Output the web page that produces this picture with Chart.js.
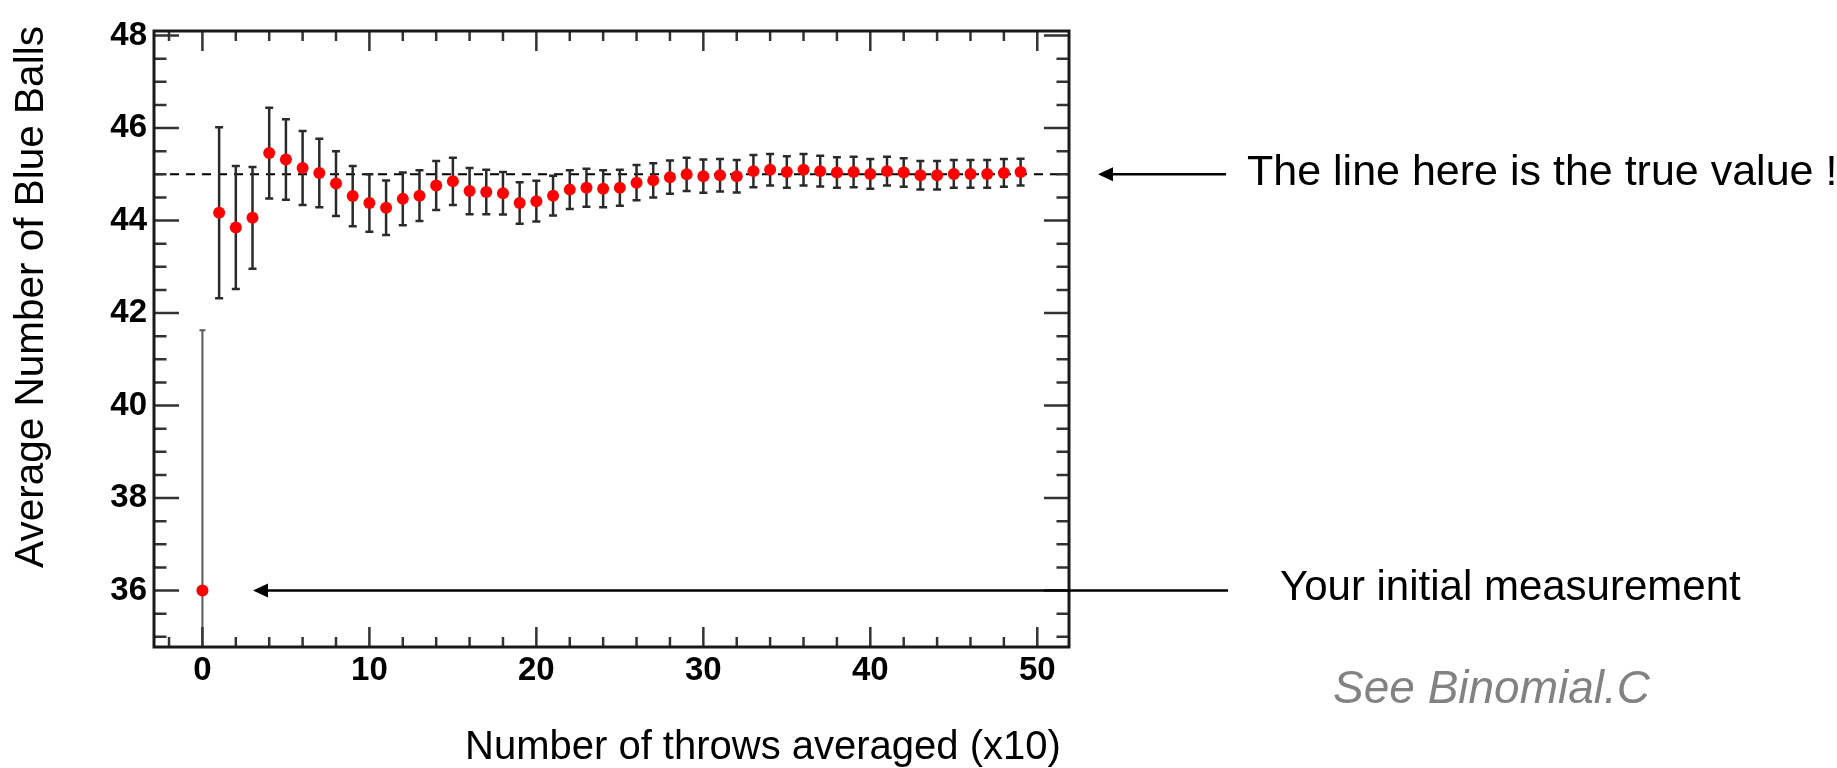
<!DOCTYPE html>
<html>
<head>
<meta charset="utf-8">
<title>Average Number of Blue Balls</title>
<script src="https://cdn.jsdelivr.net/npm/chart.js@4.4.1/dist/chart.umd.min.js"></script>
<style>
  html, body { margin: 0; padding: 0; background: #fff; }
  #wrap { position: relative; width: 1837px; height: 768px; }
</style>
</head>
<body>
<div id="wrap"><canvas id="binomial" width="1837" height="768"></canvas></div>
<script>
// Running average of blue balls drawn, one point per 10 throws
const throwGroups = [
  0, 1, 2, 3, 4, 5, 6, 7, 8, 9,
  10, 11, 12, 13, 14, 15, 16, 17, 18, 19,
  20, 21, 22, 23, 24, 25, 26, 27, 28, 29,
  30, 31, 32, 33, 34, 35, 36, 37, 38, 39,
  40, 41, 42, 43, 44, 45, 46, 47, 48, 49
];
const avgBlue = [
  36.00, 44.17, 43.85, 44.06, 45.46, 45.32, 45.14, 45.03, 44.80, 44.53,
  44.38, 44.28, 44.47, 44.54, 44.76, 44.85, 44.64, 44.62, 44.59, 44.38,
  44.42, 44.54, 44.67, 44.71, 44.69, 44.71, 44.82, 44.87, 44.94, 45.00,
  44.96, 44.98, 44.96, 45.07, 45.10, 45.05, 45.10, 45.07, 45.04, 45.05,
  45.01, 45.07, 45.04, 44.98, 44.98, 45.01, 45.01, 45.01, 45.03, 45.05
];
const avgErr = [
  5.63, 1.85, 1.33, 1.10, 0.98, 0.87, 0.80, 0.74, 0.70, 0.65,
  0.62, 0.59, 0.57, 0.55, 0.53, 0.51, 0.50, 0.48, 0.46, 0.45,
  0.44, 0.43, 0.42, 0.41, 0.40, 0.39, 0.38, 0.37, 0.36, 0.36,
  0.36, 0.35, 0.35, 0.35, 0.34, 0.34, 0.34, 0.33, 0.33, 0.33,
  0.32, 0.31, 0.31, 0.31, 0.31, 0.30, 0.30, 0.30, 0.30, 0.29
];
const TRUE_VALUE = 45;
const xLabelTicks = [0, 10, 20, 30, 40, 50];
const yLabelTicks = [36, 38, 40, 42, 44, 46, 48];

const X_MIN = -2.9, X_MAX = 51.9;
const Y_MIN = 34.78, Y_MAX = 48.1;

const SANS = '"Liberation Sans", Arial, Helvetica, sans-serif';

function seg(ctx, x1, y1, x2, y2) {
  ctx.moveTo(x1, y1);
  ctx.lineTo(x2, y2);
}

// dashed reference line at the true value, under the points
const trueLine = {
  id: "trueLine",
  beforeDatasetsDraw(chart) {
    const { ctx, chartArea: a, scales: { y } } = chart;
    const py = y.getPixelForValue(TRUE_VALUE);
    ctx.save();
    ctx.strokeStyle = "#000";
    ctx.lineWidth = 2;
    ctx.setLineDash([9, 7]);
    ctx.beginPath();
    seg(ctx, a.left, py, a.right, py);
    ctx.stroke();
    ctx.restore();
  }
};

// vertical error bars with small end caps
const errorBars = {
  id: "errorBars",
  beforeDatasetsDraw(chart) {
    const { ctx, chartArea: a, scales: { x, y } } = chart;
    ctx.save();
    ctx.beginPath();
    ctx.rect(a.left, a.top, a.right - a.left, a.bottom - a.top);
    ctx.clip();
    throwGroups.forEach((g, i) => {
      const px = x.getPixelForValue(g);
      const hi = y.getPixelForValue(avgBlue[i] + avgErr[i]);
      const lo = y.getPixelForValue(avgBlue[i] - avgErr[i]);
      // the single-throw point gets a thinner, lighter bar
      ctx.strokeStyle = i === 0 ? "#5a5a5a" : "#2a2a2a";
      ctx.lineWidth = i === 0 ? 2 : 2.5;
      const cap = i === 0 ? 3 : 4;
      ctx.beginPath();
      seg(ctx, px, hi, px, lo);
      seg(ctx, px - cap, hi, px + cap, hi);
      seg(ctx, px - cap, lo, px + cap, lo);
      ctx.stroke();
    });
    ctx.restore();
  }
};

// ROOT style frame: box with inward ticks on all four sides
const rootFrame = {
  id: "rootFrame",
  afterDatasetsDraw(chart) {
    const { ctx, chartArea: a, scales: { x, y } } = chart;
    ctx.save();
    ctx.strokeStyle = "#333";
    ctx.lineWidth = 2.5;
    ctx.beginPath();
    for (let v = Math.ceil(X_MIN / 2) * 2; v <= X_MAX; v += 2) {
      const px = x.getPixelForValue(v);
      const len = v % 10 === 0 ? 20 : 10;
      seg(ctx, px, a.bottom, px, a.bottom - len);
      seg(ctx, px, a.top, px, a.top + len);
    }
    for (let v = Math.ceil(Y_MIN * 2) / 2; v <= Y_MAX; v += 0.5) {
      const py = y.getPixelForValue(v);
      const len = v % 2 === 0 ? 25 : 12.5;
      seg(ctx, a.left, py, a.left + len, py);
      seg(ctx, a.right, py, a.right - len, py);
    }
    ctx.stroke();
    ctx.strokeStyle = "#1a1a1a";
    ctx.lineWidth = 3;
    ctx.strokeRect(a.left, a.top, a.right - a.left, a.bottom - a.top);
    ctx.restore();
  }
};

function arrow(ctx, tailX, tipX, py) {
  ctx.beginPath();
  seg(ctx, tailX, py, tipX + 10, py);
  ctx.stroke();
  ctx.beginPath();
  ctx.moveTo(tipX, py);
  ctx.lineTo(tipX + 15, py - 7);
  ctx.lineTo(tipX + 15, py + 7);
  ctx.closePath();
  ctx.fill();
}

// axis titles, pointer arrows and side notes
const notes = {
  id: "notes",
  afterDraw(chart) {
    const { ctx, scales: { y } } = chart;
    ctx.save();
    ctx.fillStyle = "#000";
    ctx.strokeStyle = "#000";
    ctx.lineWidth = 2.5;

    const trueY = y.getPixelForValue(TRUE_VALUE);
    const firstY = y.getPixelForValue(avgBlue[0]);
    arrow(ctx, 1226, 1098, trueY);
    arrow(ctx, 1228, 253, firstY);

    ctx.textAlign = "left";
    ctx.textBaseline = "alphabetic";
    ctx.font = `43px ${SANS}`;
    ctx.fillText("The line here is the true value !", 1247, trueY + 11);
    ctx.font = `42px ${SANS}`;
    ctx.fillText("Your initial measurement", 1280, 600);

    ctx.font = `italic 46px ${SANS}`;
    ctx.fillStyle = "#828282";
    ctx.fillText("See Binomial.C", 1333, 703);

    ctx.fillStyle = "#000";
    ctx.font = `40px ${SANS}`;
    ctx.fillText("Number of throws averaged (x10)", 465, 759);

    ctx.font = `40.5px ${SANS}`;
    ctx.translate(43, 297);
    ctx.rotate(-Math.PI / 2);
    ctx.textAlign = "center";
    ctx.fillText("Average Number of Blue Balls", 0, 0);
    ctx.restore();
  }
};

const tickFont = { family: SANS, size: 33, weight: "bold" };

new Chart(document.getElementById("binomial"), {
  type: "scatter",
  data: {
    datasets: [{
      data: throwGroups.map((g, i) => ({ x: g, y: avgBlue[i] })),
      pointRadius: 6,
      pointHoverRadius: 6,
      pointBackgroundColor: "#ff0000",
      pointBorderColor: "#ff0000",
      pointBorderWidth: 0
    }]
  },
  options: {
    responsive: false,
    animation: false,
    events: [],
    layout: { padding: { left: 0, top: 31, right: 768, bottom: 0 } },
    plugins: { legend: { display: false }, tooltip: { enabled: false } },
    scales: {
      x: {
        type: "linear",
        min: X_MIN,
        max: X_MAX,
        afterBuildTicks: (s) => { s.ticks = xLabelTicks.map((v) => ({ value: v })); },
        afterFit: (s) => { s.height = 121; },
        grid: { display: false, drawTicks: false },
        border: { display: false },
        ticks: { font: tickFont, color: "#000", padding: 4, maxRotation: 0 }
      },
      y: {
        type: "linear",
        min: Y_MIN,
        max: Y_MAX,
        afterBuildTicks: (s) => { s.ticks = yLabelTicks.map((v) => ({ value: v })); },
        afterFit: (s) => { s.width = 154; },
        grid: { display: false, drawTicks: false },
        border: { display: false },
        ticks: { font: tickFont, color: "#000", padding: 7 }
      }
    }
  },
  plugins: [trueLine, errorBars, rootFrame, notes]
});
</script>
</body>
</html>
